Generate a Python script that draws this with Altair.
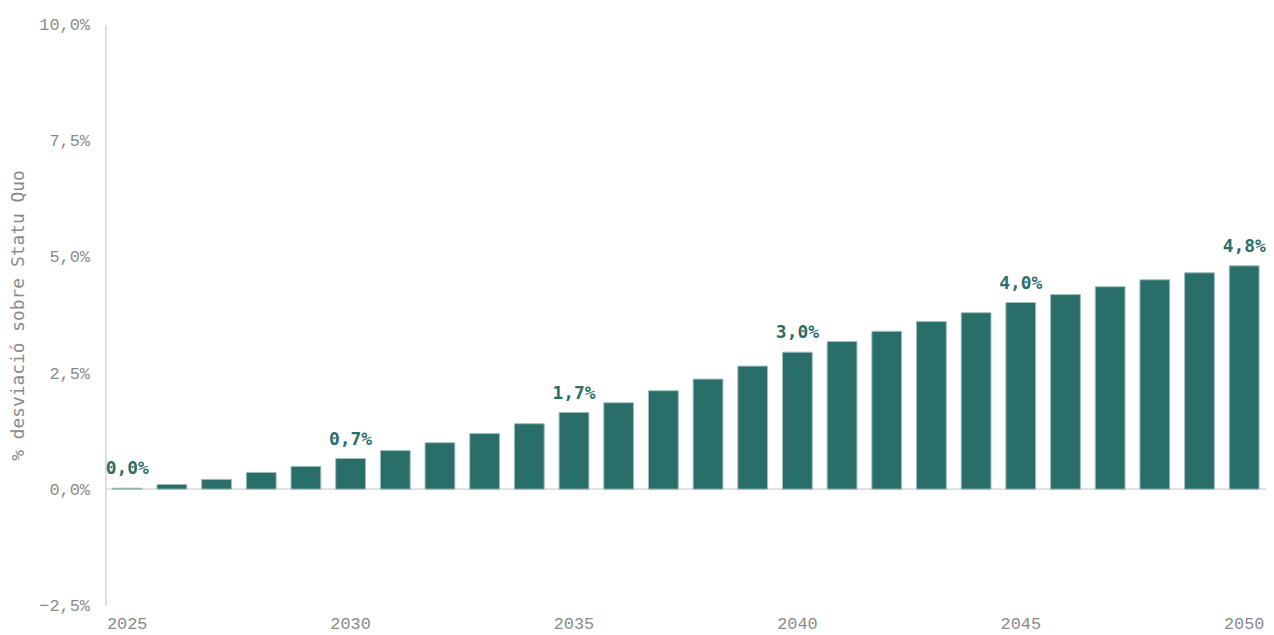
import altair as alt
import pandas as pd

years = list(range(2025, 2051))
values = [0.02, 0.10, 0.21, 0.36, 0.49, 0.66, 0.83, 1.00, 1.20, 1.41,
          1.65, 1.86, 2.12, 2.37, 2.65, 2.95, 3.18, 3.40, 3.61, 3.80,
          4.02, 4.19, 4.36, 4.51, 4.66, 4.81]
label_years = [2025, 2030, 2035, 2040, 2045, 2050]

df = pd.DataFrame({"year": [str(y) for y in years], "value": [v / 100 for v in values]})
df["show"] = [y in label_years for y in years]

FONT = "Liberation Mono"
TEAL = "#2a6e6a"
GREY = "#8a8a8a"

x = alt.X("year:N", title=None,
          scale=alt.Scale(paddingInner=0.333, paddingOuter=0.155),
          axis=alt.Axis(labelExpr="indexof(['2025','2030','2035','2040','2045','2050'], datum.value) >= 0 ? datum.value : ''",
                        labelAngle=0, ticks=False, domain=False, labelFontSize=17,
                        labelFont=FONT, labelColor=GREY, labelPadding=10))
y = alt.Y("value:Q", title="% desviació sobre Statu Quo",
          scale=alt.Scale(domain=[-0.025, 0.10], nice=False),
          axis=alt.Axis(values=[-0.025, 0, 0.025, 0.05, 0.075, 0.10],
                        labelExpr="replace(format(datum.value, '.1%'), '.', ',')",
                        grid=False, domainColor="#dddddd", domainWidth=2, ticks=False,
                        labelFont=FONT, labelFontSize=17, labelColor=GREY,
                        titleFont="DejaVu Sans Mono", titleFontSize=18, titleFontWeight="normal",
                        titleColor=GREY, titlePadding=11, labelPadding=16))

base = alt.Chart(df)
bars = base.mark_bar(color=TEAL, stroke="#9cbfbc", strokeWidth=1).encode(x=x, y=y)
zero = alt.Chart(pd.DataFrame({"z": [0]})).mark_rule(color="#dddddd", strokeWidth=2).encode(y=alt.Y("z:Q"))
labels = base.transform_filter("datum.show").transform_calculate(
    lbl="replace(format(datum.value, '.1%'), '.', ',')"
).mark_text(font="DejaVu Sans Mono", fontSize=18, fontWeight="bold", color=TEAL, dy=-19).encode(
    x=x, y=y, text="lbl:N")

chart = alt.layer(zero, bars, labels).properties(
    width=1168, height=584,
    autosize=alt.AutoSizeParams(type="none"),
    padding={"left": 98, "top": 15, "right": 0, "bottom": 27}
).configure_view(stroke=None)
chart.save("out.html", embed_options={"renderer": "svg", "actions": False})
